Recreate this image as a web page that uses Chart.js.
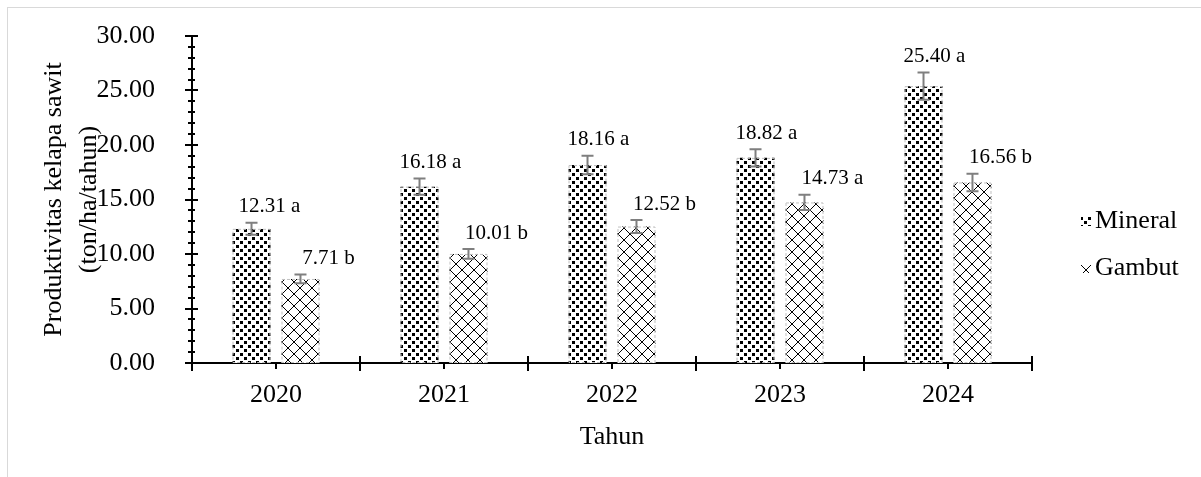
<!DOCTYPE html>
<html>
<head>
<meta charset="utf-8">
<script src="https://cdn.jsdelivr.net/npm/chart.js@4.4.1/dist/chart.umd.min.js"></script>
<style>
  html, body { margin: 0; padding: 0; background: #fff; }
  #wrap { position: relative; width: 1201px; height: 477px; overflow: hidden; }
  #frame { position: absolute; left: 7px; top: 7px; width: 1400px; height: 700px; border: 1px solid #d9d9d9; }
  canvas { position: absolute; left: 0; top: 0; }
</style>
</head>
<body>
<div id="wrap">
  <div id="frame"></div>
  <canvas id="chart" width="1201" height="477"></canvas>
</div>
<script>
const years = ["2020", "2021", "2022", "2023", "2024"];
const mineral = [12.31, 16.18, 18.16, 18.82, 25.40];
const gambut = [7.71, 10.01, 12.52, 14.73, 16.56];
const mineralErr = [0.55, 0.75, 0.85, 0.8, 1.25];
const gambutErr = [0.4, 0.45, 0.6, 0.7, 0.8];
const mineralLetters = ["a", "a", "a", "a", "a"];
const gambutLetters = ["b", "b", "b", "a", "b"];

const FONT = "'Liberation Serif', 'Times New Roman', serif";
const ctx = document.getElementById("chart").getContext("2d");

// Excel-like fill patterns
const makePattern = (kind) => {
  const c = document.createElement("canvas");
  const g = c.getContext("2d");
  if (kind === "confetti") {
    c.width = 8; c.height = 8;
    g.fillStyle = "#fff"; g.fillRect(0, 0, 8, 8);
    g.fillStyle = "#000";
    g.fillRect(0, 1, 3, 3);
    g.fillRect(4, 5, 3, 3);
  } else {
    c.width = 12; c.height = 12;
    g.fillStyle = "#fff"; g.fillRect(0, 0, 12, 12);
    g.strokeStyle = "#000"; g.lineWidth = 1;
    g.beginPath();
    g.moveTo(0, 0); g.lineTo(12, 12);
    g.moveTo(12, 0); g.lineTo(0, 12);
    g.stroke();
  }
  return ctx.createPattern(c, "repeat");
};

const extras = {
  id: "extras",
  afterDatasetsDraw(chart) {
    const c = chart.ctx, ys = chart.scales.y;
    chart.data.datasets.forEach((ds, di) => {
      const meta = chart.getDatasetMeta(di);
      meta.data.forEach((bar, i) => {
        const p = bar.getProps(["x", "y", "base", "width"], true);
        c.save();
        // dashed outline
        c.strokeStyle = "#c0c0c0"; c.lineWidth = 1; c.setLineDash([3, 2]);
        c.strokeRect(p.x - p.width / 2 + 0.5, p.y + 0.5, p.width - 1, p.base - p.y - 1);
        c.setLineDash([]);
        // error bar
        const v = ds.data[i], e = ds.errors[i];
        const yt = ys.getPixelForValue(v + e), yb = ys.getPixelForValue(v - e);
        c.strokeStyle = "#7f7f7f"; c.lineWidth = 2;
        c.beginPath();
        c.moveTo(p.x, yt); c.lineTo(p.x, yb);
        c.moveTo(p.x - 6, yt); c.lineTo(p.x + 6, yt);
        c.moveTo(p.x - 6, yb); c.lineTo(p.x + 6, yb);
        c.stroke();
        // value label
        c.fillStyle = "#000";
        c.font = "21px " + FONT;
        c.textAlign = "center"; c.textBaseline = "middle";
        const dx = di === 0 ? (i === 0 ? 18 : 11) : 28;
        c.fillText(v.toFixed(2) + " " + ds.letters[i], p.x + dx, yt - 16);
        c.restore();
      });
    });
  },
  afterDraw(chart) {
    const c = chart.ctx, xs = chart.scales.x, ys = chart.scales.y;
    const ax = chart.chartArea.left, ay = chart.chartArea.bottom;
    c.save();
    c.strokeStyle = "#000"; c.lineWidth = 2;
    c.beginPath();
    // y major and minor ticks
    for (let v = 0; v <= 30; v += 1) {
      const py = Math.round(ys.getPixelForValue(v));
      const len = v % 5 === 0 ? 7 : 4;
      c.moveTo(ax - len, py); c.lineTo(ax + len - 1, py);
    }
    // x ticks: category boundaries and centers
    for (let i = 0; i < years.length; i++) {
      const bx = Math.round(xs.getPixelForValue(i + 0.5));
      c.moveTo(bx, ay - 7); c.lineTo(bx, ay + 8);
      const cx = Math.round(xs.getPixelForValue(i));
      c.moveTo(cx, ay); c.lineTo(cx, ay + 6);
    }
    c.moveTo(ax, ay); c.lineTo(ax, ay + 8);
    c.stroke();
    // legend
    c.font = "26px " + FONT;
    c.textAlign = "left"; c.textBaseline = "middle"; 
    chart.data.datasets.forEach((ds, di) => {
      const ly = 221 + di * 47;
      c.fillStyle = ds.backgroundColor;
      c.fillRect(1081, ly - 5, 10, 10);
      c.fillStyle = "#000";
      c.fillText(ds.label, 1095, ly);
    });
    c.restore();
  }
};

new Chart(ctx, {
  type: "bar",
  data: {
    labels: years,
    datasets: [
      { label: "Mineral", data: mineral, errors: mineralErr, letters: mineralLetters,
        backgroundColor: makePattern("confetti"), borderWidth: 0,
        categoryPercentage: 0.583, barPercentage: 0.776 },
      { label: "Gambut", data: gambut, errors: gambutErr, letters: gambutLetters,
        backgroundColor: makePattern("cross"), borderWidth: 0,
        categoryPercentage: 0.583, barPercentage: 0.776 }
    ]
  },
  options: {
    responsive: false,
    animation: false,
    layout: { padding: { top: 36, right: 169, left: 0, bottom: 0 } },
    plugins: { legend: { display: false }, tooltip: { enabled: false } },
    scales: {
      x: {
        grid: { display: false, drawTicks: false },
        border: { color: "#000", width: 2 },
        ticks: { color: "#000", font: { family: FONT, size: 26, lineHeight: 1.2 }, padding: 17 },
        title: { display: true, text: "Tahun", color: "#000",
                 font: { family: FONT, size: 26, lineHeight: 1.2 }, padding: { bottom: 24 } },
        afterFit: (s) => { s.height = 114; }
      },
      y: {
        min: 0, max: 30,
        grid: { display: false, drawTicks: true, tickLength: 35 },
        border: { color: "#000", width: 2 },
        ticks: { stepSize: 5, color: "#000", padding: 2,
                 font: { family: FONT, size: 26 },
                 callback: (v) => Number(v).toFixed(2) },
        title: { display: true, text: ["Produktivitas kelapa sawit", "(ton/ha/tahun)"], color: "#000",
                 font: { family: FONT, size: 26, lineHeight: 1.35 }, padding: { top: 37 } },
        afterFit: (s) => { s.width = 192; }
      }
    }
  },
  plugins: [extras]
});
</script>
</body>
</html>
